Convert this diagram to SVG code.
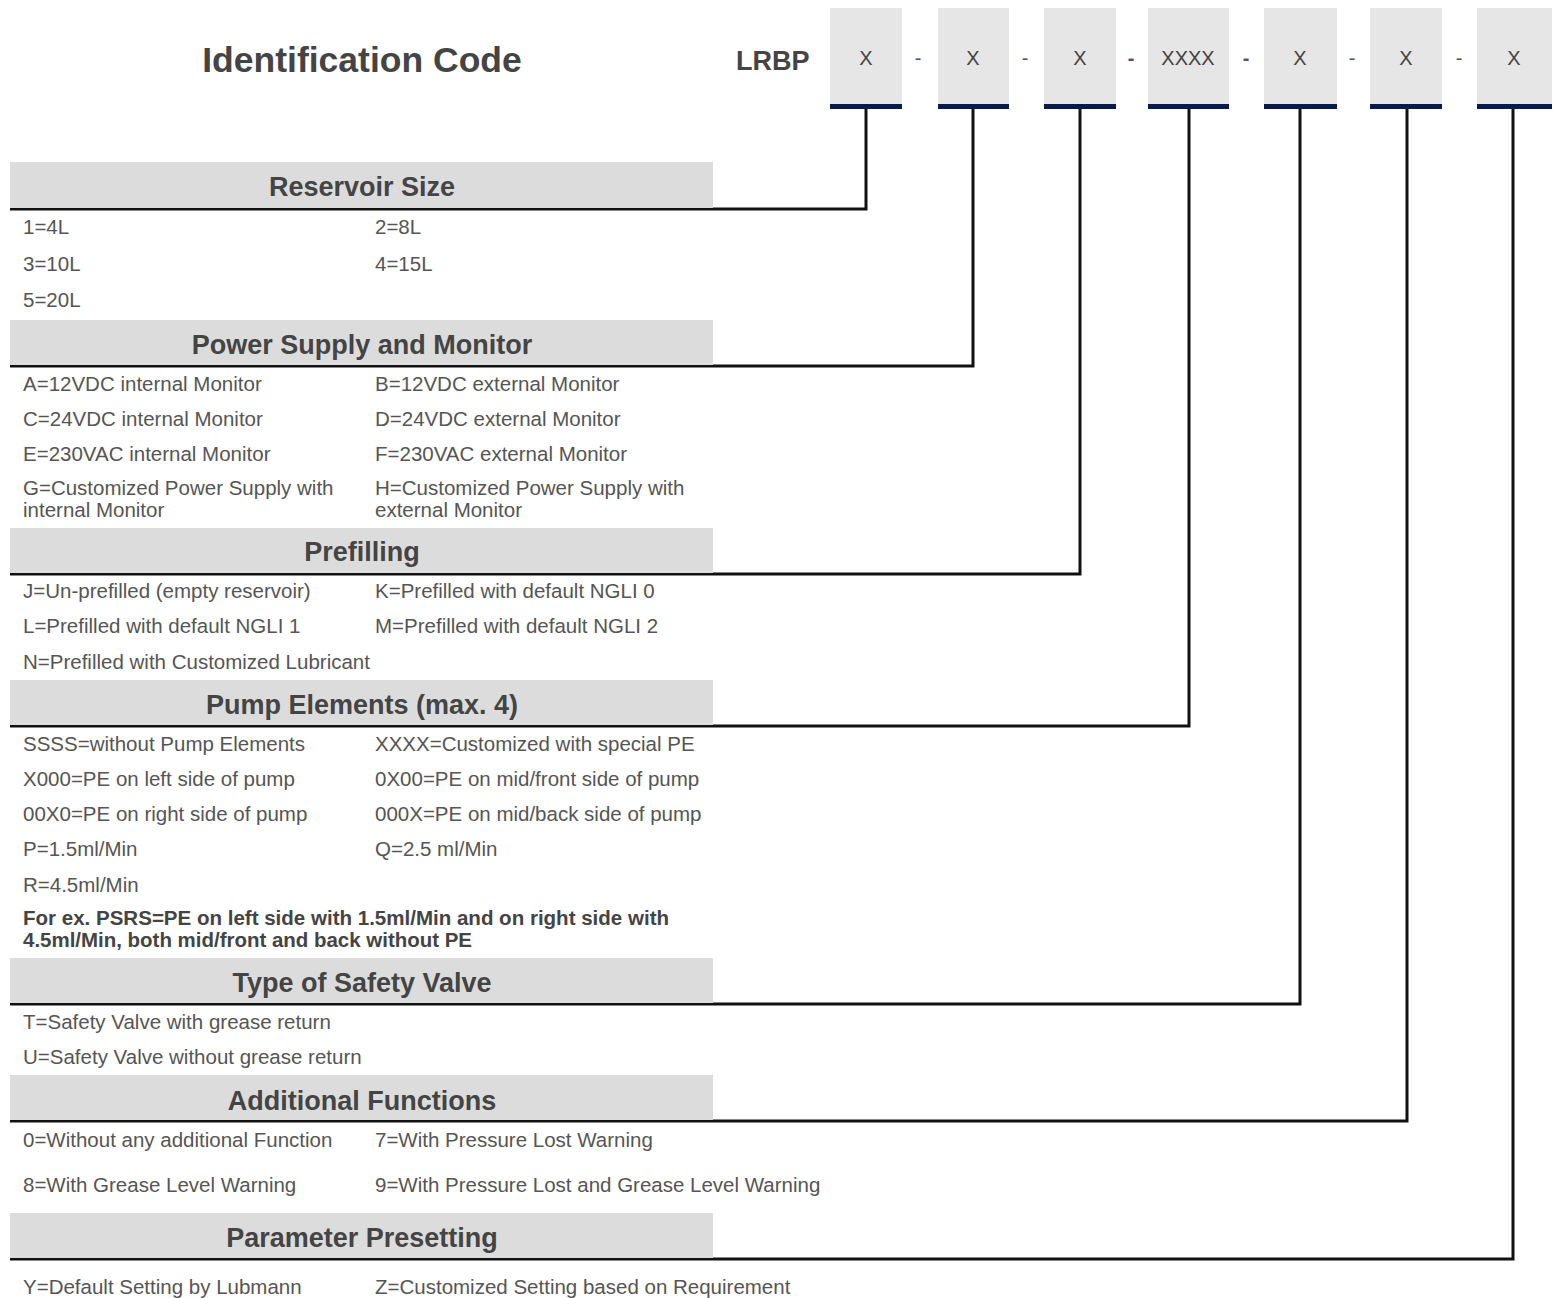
<svg xmlns="http://www.w3.org/2000/svg" width="1554" height="1298" viewBox="0 0 1554 1298">
<style>
.title{font-family:"Liberation Sans",Arial,sans-serif;font-weight:bold;fill:#444;}
.hdr{font-family:"Liberation Sans",Arial,sans-serif;font-weight:bold;font-size:27px;fill:#444;text-anchor:middle;}
.hbg{fill:#dcdcdc;}
.t{font-family:"Liberation Sans",Arial,sans-serif;font-size:20.5px;fill:#555;}
.tb{font-family:"Liberation Sans",Arial,sans-serif;font-size:19.5px;font-weight:bold;fill:#444;}
.box{fill:#e6e6e6;}
.bar{fill:#0a1a4a;}
.bx{font-family:"Liberation Sans",Arial,sans-serif;font-size:20px;fill:#444;text-anchor:middle;}
.dash{font-family:"Liberation Sans",Arial,sans-serif;font-size:20px;fill:#555;text-anchor:middle;}
.conn{fill:none;stroke:#111;stroke-width:3;}
</style>
<rect width="1554" height="1298" fill="#fff"/>
<g id="title">
<text class="title" x="362" y="72" font-size="35.5" text-anchor="middle">Identification Code</text>
<text class="title" x="736" y="70" font-size="27">LRBP</text>
</g>
<g id="code-boxes">
<rect class="box" x="830" y="8" width="72" height="97"/><rect class="bar" x="830" y="104" width="72" height="5"/><text class="bx" x="866" y="65">X</text>
<text class="dash" x="918" y="65">-</text>
<rect class="box" x="938" y="8" width="71" height="97"/><rect class="bar" x="938" y="104" width="71" height="5"/><text class="bx" x="973" y="65">X</text>
<text class="dash" x="1025" y="65">-</text>
<rect class="box" x="1044" y="8" width="72" height="97"/><rect class="bar" x="1044" y="104" width="72" height="5"/><text class="bx" x="1080" y="65">X</text>
<text class="dash" x="1131" y="65" font-weight="bold">-</text>
<rect class="box" x="1148" y="8" width="81" height="97"/><rect class="bar" x="1148" y="104" width="81" height="5"/><text class="bx" x="1188" y="65" font-size="18">XXXX</text>
<text class="dash" x="1246" y="65" font-weight="bold">-</text>
<rect class="box" x="1264" y="8" width="73" height="97"/><rect class="bar" x="1264" y="104" width="73" height="5"/><text class="bx" x="1300" y="65">X</text>
<text class="dash" x="1352" y="65">-</text>
<rect class="box" x="1370" y="8" width="72" height="97"/><rect class="bar" x="1370" y="104" width="72" height="5"/><text class="bx" x="1406" y="65">X</text>
<text class="dash" x="1459" y="65">-</text>
<rect class="box" x="1477" y="8" width="75" height="97"/><rect class="bar" x="1477" y="104" width="75" height="5"/><text class="bx" x="1514" y="65">X</text>
</g>
<g id="connectors">
<path class="conn" d="M10 209 H866 V109"/>
<path class="conn" d="M10 366 H973 V109"/>
<path class="conn" d="M10 574 H1080 V109"/>
<path class="conn" d="M10 726 H1189 V109"/>
<path class="conn" d="M10 1004 H1300 V109"/>
<path class="conn" d="M10 1121 H1407 V109"/>
<path class="conn" d="M10 1259 H1513 V109"/>
</g>
<g id="reservoir-size">
<rect class="hbg" x="10" y="162" width="703" height="46"/>
<text class="hdr" x="362" y="196">Reservoir Size</text>
<text class="t" x="23" y="234">1=4L</text><text class="t" x="375" y="234">2=8L</text>
<text class="t" x="23" y="271">3=10L</text><text class="t" x="375" y="271">4=15L</text>
<text class="t" x="23" y="307">5=20L</text>
</g>
<g id="power-supply">
<rect class="hbg" x="10" y="320" width="703" height="45"/>
<text class="hdr" x="362" y="354" font-size="27.5">Power Supply and Monitor</text>
<text class="t" x="23" y="391">A=12VDC internal Monitor</text><text class="t" x="375" y="391">B=12VDC external Monitor</text>
<text class="t" x="23" y="426">C=24VDC internal Monitor</text><text class="t" x="375" y="426">D=24VDC external Monitor</text>
<text class="t" x="23" y="461">E=230VAC internal Monitor</text><text class="t" x="375" y="461">F=230VAC external Monitor</text>
<text class="t" x="23" y="495">G=Customized Power Supply with</text><text class="t" x="375" y="495">H=Customized Power Supply with</text>
<text class="t" x="23" y="517">internal Monitor</text><text class="t" x="375" y="517">external Monitor</text>
</g>
<g id="prefilling">
<rect class="hbg" x="10" y="528" width="703" height="45"/>
<text class="hdr" x="362" y="561">Prefilling</text>
<text class="t" x="23" y="598">J=Un-prefilled (empty reservoir)</text><text class="t" x="375" y="598">K=Prefilled with default NGLI 0</text>
<text class="t" x="23" y="633">L=Prefilled with default NGLI 1</text><text class="t" x="375" y="633">M=Prefilled with default NGLI 2</text>
<text class="t" x="23" y="669">N=Prefilled with Customized Lubricant</text>
</g>
<g id="pump-elements">
<rect class="hbg" x="10" y="680" width="703" height="45"/>
<text class="hdr" x="362" y="714">Pump Elements (max. 4)</text>
<text class="t" x="23" y="751">SSSS=without Pump Elements</text><text class="t" x="375" y="751">XXXX=Customized with special PE</text>
<text class="t" x="23" y="786">X000=PE on left side of pump</text><text class="t" x="375" y="786">0X00=PE on mid/front side of pump</text>
<text class="t" x="23" y="821">00X0=PE on right side of pump</text><text class="t" x="375" y="821">000X=PE on mid/back side of pump</text>
<text class="t" x="23" y="856">P=1.5ml/Min</text><text class="t" x="375" y="856">Q=2.5 ml/Min</text>
<text class="t" x="23" y="892">R=4.5ml/Min</text>
<text class="tb" x="23" y="925" textLength="646" lengthAdjust="spacingAndGlyphs">For ex. PSRS=PE on left side with 1.5ml/Min and on right side with</text>
<text class="tb" x="23" y="947" textLength="449" lengthAdjust="spacingAndGlyphs">4.5ml/Min, both mid/front and back without PE</text>
</g>
<g id="safety-valve">
<rect class="hbg" x="10" y="958" width="703" height="45"/>
<text class="hdr" x="362" y="992">Type of Safety Valve</text>
<text class="t" x="23" y="1029">T=Safety Valve with grease return</text>
<text class="t" x="23" y="1064">U=Safety Valve without grease return</text>
</g>
<g id="additional-functions">
<rect class="hbg" x="10" y="1075" width="703" height="45"/>
<text class="hdr" x="362" y="1110">Additional Functions</text>
<text class="t" x="23" y="1147">0=Without any additional Function</text><text class="t" x="375" y="1147">7=With Pressure Lost Warning</text>
<text class="t" x="23" y="1192">8=With Grease Level Warning</text><text class="t" x="375" y="1192">9=With Pressure Lost and Grease Level Warning</text>
</g>
<g id="parameter-presetting">
<rect class="hbg" x="10" y="1213" width="703" height="45"/>
<text class="hdr" x="362" y="1247">Parameter Presetting</text>
<text class="t" x="23" y="1294">Y=Default Setting by Lubmann</text><text class="t" x="375" y="1294">Z=Customized Setting based on Requirement</text>
</g>
</svg>
